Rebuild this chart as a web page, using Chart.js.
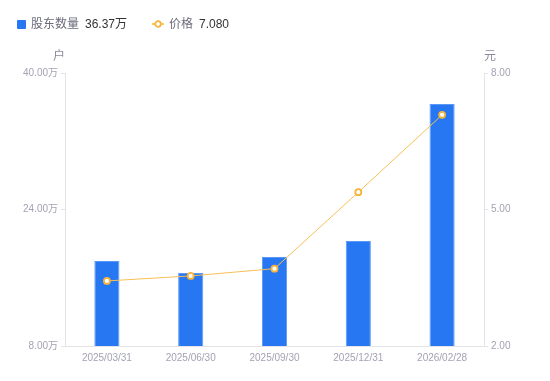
<!DOCTYPE html>
<html><head><meta charset="utf-8">
<script src="https://cdn.jsdelivr.net/npm/chart.js@4/dist/chart.umd.min.js"></script>
<style>
html,body{margin:0;padding:0;background:#fff;}
#wrap{position:relative;width:550px;height:381px;font-family:"Liberation Sans","Noto Sans CJK SC",sans-serif;}
canvas{position:absolute;left:0;top:0;}
.lg{position:absolute;top:16px;font-size:12px;line-height:16px;white-space:nowrap;}
.lg .n{color:#6b6b7b;}
.lg .v{color:#333;margin-left:6px;}
.sq{position:absolute;left:17px;top:20px;width:9px;height:9px;background:#2777f2;border-radius:1px;}
</style></head>
<body><div id="wrap">
<canvas id="c" width="550" height="381"></canvas>
<div class="sq"></div>
<div class="lg" style="left:31px;"><span class="n">股东数量</span><span class="v">36.37万</span></div>
<svg style="position:absolute;left:152px;top:19px" width="12" height="10"><line x1="0" y1="5" x2="12" y2="5" stroke="#f7b538" stroke-width="1.5"/><circle cx="6" cy="5" r="2.8" fill="#fff" stroke="#f7b538" stroke-width="1.8"/></svg>
<div class="lg" style="left:169px;"><span class="n">价格</span><span class="v">7.080</span></div>
</div>
<script>
const categories = ["2025/03/31","2025/06/30","2025/09/30","2025/12/31","2026/02/28"];
const holders = [17.96, 16.56, 18.43, 20.31, 36.37]; // 万户
const prices = [3.43, 3.54, 3.70, 5.38, 7.08]; // 元
const leftTicks = [8, 24, 40];
const rightTicks = [2, 5, 8];

const tickColor = '#a3a3b3';
const lineColor = '#e3e3e8';
const fam = '"Liberation Sans", "Noto Sans CJK SC", sans-serif';
const font = {family: fam, size: 10};

const titles = {
  id: 'axisTitles',
  afterDraw(chart) {
    const ctx = chart.ctx, a = chart.chartArea;
    ctx.save();
    ctx.font = '12px ' + fam;
    ctx.fillStyle = '#8a8a9a';
    ctx.textBaseline = 'middle';
    ctx.textAlign = 'center';
    ctx.fillText('户', a.left - 6, a.top - 16);
    ctx.fillText('元', a.right + 6, a.top - 16);
    ctx.restore();
  }
};

new Chart(document.getElementById('c'), {
  data: {
    labels: categories,
    datasets: [
      {type: 'line', label: '价格', data: prices, yAxisID: 'y1', order: 0,
       borderColor: '#f8bf55', borderWidth: 1, pointRadius: 3, pointBorderWidth: 1.8,
       pointBackgroundColor: '#fff', pointBorderColor: '#f7b538', tension: 0},
      {type: 'bar', label: '股东数量', data: holders, yAxisID: 'y', order: 1,
       backgroundColor: '#2777f2', borderColor: '#5a98f7', borderWidth: 1,
       categoryPercentage: 0.3, barPercentage: 1}
    ]
  },
  options: {
    responsive: false, animation: false,
    layout: {padding: {top: 73, left: 0, right: 0, bottom: 0}},
    plugins: {legend: {display: false}, tooltip: {enabled: false}},
    scales: {
      x: {offset: true,
          grid: {display: false, drawTicks: false},
          border: {color: lineColor},
          ticks: {color: tickColor, font, padding: 6},
          afterFit(s) { s.height = 35; }},
      y: {position: 'left', min: 8, max: 40,
          afterBuildTicks(s) { s.ticks = leftTicks.map(v => ({value: v})); },
          grid: {drawOnChartArea: false, tickLength: 4, color: lineColor},
          border: {color: lineColor},
          ticks: {color: tickColor, font, padding: 3, callback: v => v.toFixed(2) + '万'},
          afterFit(s) { s.width = 65; }},
      y1: {position: 'right', min: 2, max: 8,
          afterBuildTicks(s) { s.ticks = rightTicks.map(v => ({value: v})); },
          grid: {drawOnChartArea: false, tickLength: 4, color: lineColor},
          border: {color: lineColor},
          ticks: {color: tickColor, font, padding: 3, callback: v => v.toFixed(2)},
          afterFit(s) { s.width = 66; }}
    }
  },
  plugins: [titles]
});
</script>
</body></html>
